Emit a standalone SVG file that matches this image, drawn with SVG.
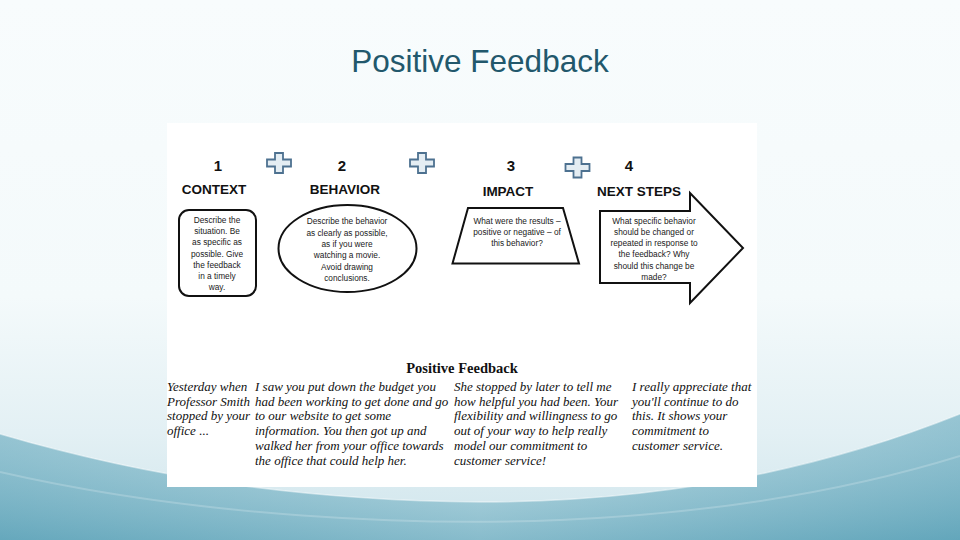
<svg xmlns="http://www.w3.org/2000/svg" width="960" height="540" viewBox="0 0 960 540">
<defs>
<linearGradient id="bg" x1="0" y1="0" x2="0" y2="1">
<stop offset="0" stop-color="#f8fcfd"/>
<stop offset="0.55" stop-color="#f4fafb"/>
<stop offset="0.8" stop-color="#e3f0f4"/>
<stop offset="1" stop-color="#cfe5ec"/>
</linearGradient>
<linearGradient id="waveH" x1="0" y1="0" x2="1" y2="0">
<stop offset="0" stop-color="#6fafc2"/>
<stop offset="0.5" stop-color="#acd3de"/>
<stop offset="1" stop-color="#6aacc0"/>
</linearGradient>
<linearGradient id="waveV" x1="0" y1="0" x2="0" y2="1">
<stop offset="0" stop-color="#ffffff" stop-opacity="0.3"/>
<stop offset="1" stop-color="#5a9fb5" stop-opacity="0.45"/>
</linearGradient>
<style>
.hdr{font-family:"Liberation Sans",Arial,sans-serif;font-weight:bold;font-size:13.5px;fill:#111;text-anchor:middle}
.num{font-family:"Liberation Sans",Arial,sans-serif;font-weight:bold;font-size:15px;fill:#111;text-anchor:middle}
.small{font-family:"Liberation Sans",Arial,sans-serif;font-size:8.3px;fill:#1a1a1a;text-anchor:middle}
.shape{fill:#ffffff;stroke:#111;stroke-width:2}
.plus{fill:#e4edf3;stroke:#4d7190;stroke-width:1.8}
.body{font-family:"Liberation Serif","Times New Roman",serif;font-style:italic;font-size:13px;fill:#111}
</style>
</defs>
<rect x="0" y="0" width="960" height="540" fill="url(#bg)"/>
<path d="M0,434 C150,478 300,500 480,502 C660,502 820,470 960,414 L960,540 L0,540 Z" fill="url(#waveH)"/>
<path d="M0,434 C150,478 300,500 480,502 C660,502 820,470 960,414 L960,540 L0,540 Z" fill="url(#waveV)"/>
<path d="M0,472 C200,518 420,526 560,520 C720,513 850,490 960,456" fill="none" stroke="#ffffff" stroke-opacity="0.2" stroke-width="2"/>
<path d="M0,434 C150,478 300,500 480,502 C660,502 820,470 960,414" fill="none" stroke="#ffffff" stroke-opacity="0.45" stroke-width="1.5"/>

<text x="480" y="72" font-family="'Liberation Sans',Arial,sans-serif" font-size="31.5" fill="#22586c" text-anchor="middle">Positive Feedback</text>

<rect x="167" y="123" width="590" height="364" fill="#ffffff"/>

<g id="connectors">
<path class="plus" d="M275,153 h8 v6.5 h8 v7 h-8 v6.5 h-8 v-6.5 h-8 v-7 h8 Z"/>
<path class="plus" d="M418,153 h8 v6.5 h8 v7 h-8 v6.5 h-8 v-6.5 h-8 v-7 h8 Z"/>
<path class="plus" d="M573.5,157.5 h8 v6.5 h8 v7 h-8 v6.5 h-8 v-6.5 h-8 v-7 h8 Z"/>
</g>

<g id="context">
<text class="num" x="218" y="171">1</text>
<text class="hdr" x="214" y="194">CONTEXT</text>
<rect class="shape" x="179" y="210" width="77" height="86" rx="10"/>
<text class="small" x="217" y="223">Describe the</text>
<text class="small" x="217" y="234">situation.  Be</text>
<text class="small" x="217" y="245">as specific as</text>
<text class="small" x="217" y="256.5">possible.  Give</text>
<text class="small" x="217" y="268">the feedback</text>
<text class="small" x="217" y="279">in a timely</text>
<text class="small" x="217" y="290">way.</text>
</g>

<g id="behavior">
<text class="num" x="342" y="171">2</text>
<text class="hdr" x="345" y="194">BEHAVIOR</text>
<ellipse class="shape" cx="347.5" cy="248.5" rx="69" ry="43.5"/>
<text class="small" x="347" y="224">Describe the behavior</text>
<text class="small" x="347" y="235.5">as clearly as possible,</text>
<text class="small" x="347" y="246.5">as if you were</text>
<text class="small" x="347" y="258">watching a movie.</text>
<text class="small" x="347" y="269.5">Avoid drawing</text>
<text class="small" x="347" y="280.5">conclusions.</text>
</g>

<g id="impact">
<text class="num" x="511" y="171">3</text>
<text class="hdr" x="508" y="196">IMPACT</text>
<path class="shape" d="M468,208 L563,208 L579,263.5 L452.5,263.5 Z"/>
<text class="small" x="517" y="223.5">What were the results –</text>
<text class="small" x="517" y="235">positive or negative – of</text>
<text class="small" x="517" y="246">this behavior?</text>
</g>

<g id="next-steps">
<text class="num" x="629" y="171">4</text>
<text class="hdr" x="639" y="196">NEXT STEPS</text>
<path class="shape" d="M600,211 L690,211 L690,193 L743,248 L690,303 L690,283 L600,283 Z"/>
<text class="small" x="654" y="224">What specific behavior</text>
<text class="small" x="654" y="235">should be changed or</text>
<text class="small" x="654" y="246">repeated in response to</text>
<text class="small" x="654" y="257">the feedback?  Why</text>
<text class="small" x="654" y="268.5">should this change be</text>
<text class="small" x="654" y="279.5">made?</text>
</g>

<g id="example">
<text x="462" y="373" font-family="'Liberation Serif','Times New Roman',serif" font-weight="bold" font-size="14.5" fill="#111" text-anchor="middle">Positive Feedback</text>
<text class="body" x="167" y="391">Yesterday when</text>
<text class="body" x="167" y="406">Professor Smith</text>
<text class="body" x="167" y="420">stopped by your</text>
<text class="body" x="167" y="435">office ...</text>
<text class="body" x="255" y="391">I saw you put down the budget you</text>
<text class="body" x="255" y="406">had been working to get done and go</text>
<text class="body" x="255" y="420">to our website to get some</text>
<text class="body" x="255" y="435">information. You then got up and</text>
<text class="body" x="255" y="450">walked her from your office towards</text>
<text class="body" x="255" y="465">the office that could help her.</text>
<text class="body" x="454" y="391">She stopped by later to tell me</text>
<text class="body" x="454" y="406">how helpful you had been. Your</text>
<text class="body" x="454" y="420">flexibility and willingness to go</text>
<text class="body" x="454" y="435">out of your way to help really</text>
<text class="body" x="454" y="450">model our commitment to</text>
<text class="body" x="454" y="465">customer service!</text>
<text class="body" x="632" y="391">I really appreciate that</text>
<text class="body" x="632" y="406">you'll continue to do</text>
<text class="body" x="632" y="420">this. It shows your</text>
<text class="body" x="632" y="435">commitment to</text>
<text class="body" x="632" y="450">customer service.</text>
</g>
</svg>
